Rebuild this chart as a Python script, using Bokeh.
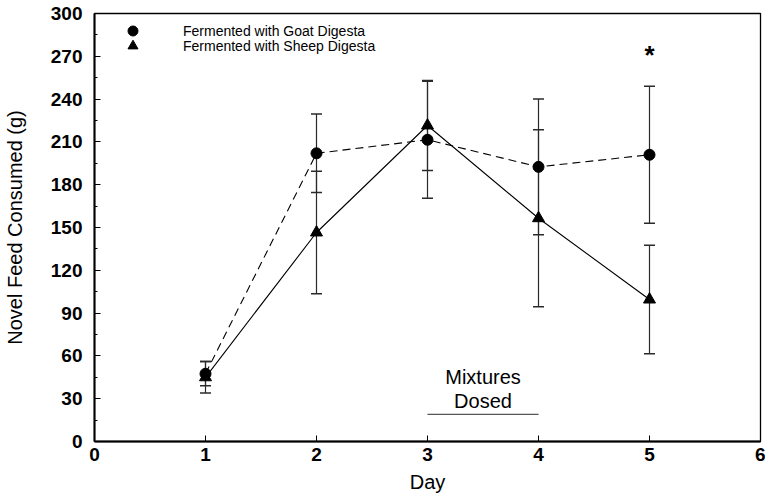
from bokeh.plotting import figure
from bokeh.models import (ColumnDataSource, Whisker, TeeHead, FixedTicker, Range1d,
                          Legend, LegendItem, Label)
from bokeh.embed import file_html
from bokeh.resources import INLINE

# ---- data ----
days = [1, 2, 3, 4, 5]
goat_mean = [47.5, 202.0, 211.5, 192.5, 201.0]
goat_err = [8.5, 27.5, 41.0, 47.5, 48.0]
sheep_mean = [45.0, 146.5, 221.5, 156.5, 99.5]
sheep_err = [11.0, 43.0, 31.5, 62.0, 38.0]

x_ticks = [0, 1, 2, 3, 4, 5, 6]
y_ticks = [0, 30, 60, 90, 120, 150, 180, 210, 240, 270, 300]
y_minor = [15, 45, 75, 105, 135, 165, 195, 225, 255, 285]

goat_label = "Fermented with Goat Digesta"
sheep_label = "Fermented with Sheep Digesta"

dosed_start, dosed_end, dosed_level = 3, 4, 19
dosed_text_x = 3.5
mixtures_y, dosed_y = 45.5, 28.5
star_day, star_y = 5, 271

FONT = "Liberation Sans"

goat = ColumnDataSource(dict(x=days, y=goat_mean,
                             up=[m + e for m, e in zip(goat_mean, goat_err)],
                             lo=[m - e for m, e in zip(goat_mean, goat_err)]))
sheep = ColumnDataSource(dict(x=days, y=sheep_mean,
                              up=[m + e for m, e in zip(sheep_mean, sheep_err)],
                              lo=[m - e for m, e in zip(sheep_mean, sheep_err)]))

p = figure(width=765, height=495, output_backend="svg", toolbar_location=None,
           x_range=Range1d(0, 6), y_range=Range1d(0, 300),
           min_border_left=88, min_border_right=5, min_border_top=13, min_border_bottom=54)

p.xgrid.visible = False
p.ygrid.visible = False
p.outline_line_color = "black"
p.outline_line_width = 1.3
p.background_fill_color = "white"
p.border_fill_color = "white"

# axes
p.xaxis.ticker = FixedTicker(ticks=x_ticks)
p.yaxis.ticker = FixedTicker(ticks=y_ticks, minor_ticks=y_minor)
for ax in (p.xaxis, p.yaxis):
    ax.axis_line_width = 2
    ax.axis_line_color = "black"
    ax.major_tick_in = 6
    ax.major_tick_out = 0
    ax.major_tick_line_color = "black"
    ax.major_label_text_font = FONT
    ax.major_label_text_font_size = "19px"
    ax.major_label_text_font_style = "bold"
    ax.major_label_text_color = "black"
    ax.axis_label_text_font = FONT
    ax.axis_label_text_font_size = "20px"
    ax.axis_label_text_font_style = "normal"
    ax.axis_label_text_color = "black"
p.xaxis.minor_tick_line_color = None
p.yaxis.minor_tick_in = 3
p.yaxis.minor_tick_out = 0
p.yaxis.minor_tick_line_color = "black"
p.xaxis.major_label_standoff = 6
p.yaxis.major_label_standoff = 12
p.xaxis.axis_label = "Day"
p.yaxis.axis_label = "Novel Feed Consumed (g)"
p.xaxis.axis_label_standoff = 7
p.yaxis.axis_label_standoff = 22

# error bars
for src in (goat, sheep):
    w = Whisker(base="x", upper="up", lower="lo", source=src, dimension="height",
                line_color="#2a2a2a", line_width=1.2,
                upper_head=TeeHead(size=11, line_color="#2a2a2a", line_width=1.5),
                lower_head=TeeHead(size=11, line_color="#2a2a2a", line_width=1.5))
    p.add_layout(w)

# lines
p.line("x", "y", source=goat, line_color="black", line_width=1.1, line_dash="8 5")
p.line("x", "y", source=sheep, line_color="black", line_width=1.1)

# markers
g_pts = p.scatter("x", "y", source=goat, marker="circle", size=11,
                  fill_color="black", line_color="black")
s_pts = p.scatter("x", "y", source=sheep, marker="triangle", size=12,
                  fill_color="black", line_color="black")

# legend (one Legend per entry so the rows sit close together)
common = dict(glyph_width=25, glyph_height=25, label_height=25, label_standoff=38,
              padding=0, margin=0, border_line_color=None, background_fill_alpha=0,
              label_text_font=FONT, label_text_font_size="14px", label_text_color="black")
p.add_layout(Legend(items=[LegendItem(label=goat_label, renderers=[g_pts])],
                    location=(26, 398), **common))
p.add_layout(Legend(items=[LegendItem(label=sheep_label, renderers=[s_pts])],
                    location=(26, 383), **common))

# "Mixtures Dosed" annotation
p.segment(x0=[dosed_start], y0=[dosed_level], x1=[dosed_end], y1=[dosed_level],
          line_color="#555555", line_width=1.2)
p.add_layout(Label(x=dosed_text_x, y=mixtures_y, text="Mixtures", text_align="center",
                   text_baseline="middle", text_font=FONT, text_font_size="20px",
                   text_color="black"))
p.add_layout(Label(x=dosed_text_x, y=dosed_y, text="Dosed", text_align="center",
                   text_baseline="middle", text_font=FONT, text_font_size="20px",
                   text_color="black"))
p.add_layout(Label(x=star_day, y=star_y, text="*", text_align="center",
                   text_baseline="middle", text_font=FONT, text_font_size="26px",
                   text_font_style="bold", text_color="black"))

open("out.html", "w").write(file_html(p, INLINE))
